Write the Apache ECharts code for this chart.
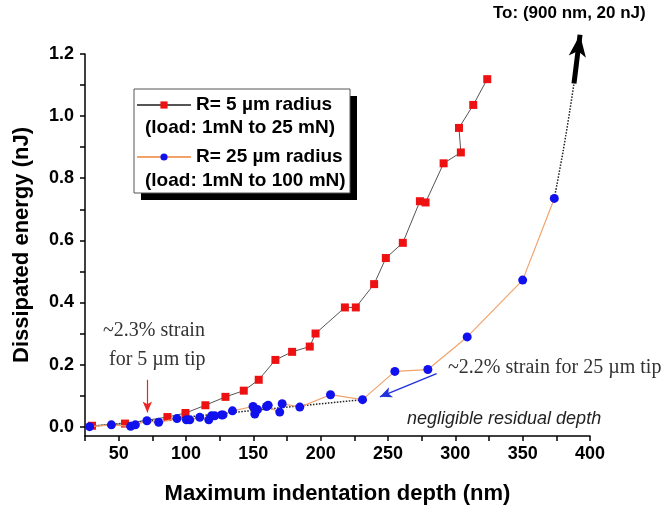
<!DOCTYPE html>
<html>
<head>
<meta charset="utf-8">
<script src="https://cdn.jsdelivr.net/npm/echarts@6/dist/echarts.min.js"></script>
<style>
html,body{margin:0;padding:0;background:#fff;}
#chart{width:665px;height:506px;}
</style>
</head>
<body>
<div id="chart"></div>
<script>
// ---- data ----
const r5Depth  = [30.2, 54.7, 86.2, 99.6, 114.4, 129.3, 142.9, 154.0, 166.4, 178.8, 191.9, 196.2, 218.0, 226.1, 239.7, 248.4, 261.0, 273.7, 277.9, 291.3, 304.1, 302.7, 313.3, 323.7];
const r5Energy = [0.003, 0.010, 0.031, 0.044, 0.069, 0.096, 0.116, 0.151, 0.215, 0.241, 0.258, 0.300, 0.384, 0.384, 0.459, 0.543, 0.592, 0.726, 0.722, 0.848, 0.883, 0.962, 1.036, 1.119];

const r25Depth  = [28.4, 44.6, 58.9, 62.4, 71.0, 79.7, 93.3, 100.3, 102.8, 110.2, 116.9, 118.9, 121.3, 126.3, 127.5, 134.5, 149.8, 151.1, 153.1, 159.8, 161.0, 169.6, 171.4, 184.5, 207.3, 231.1, 255.1, 279.6, 308.8, 350.0, 373.5];
const r25Energy = [0.000, 0.006, 0.001, 0.006, 0.019, 0.014, 0.026, 0.022, 0.022, 0.030, 0.022, 0.035, 0.035, 0.038, 0.038, 0.051, 0.065, 0.041, 0.055, 0.065, 0.069, 0.047, 0.074, 0.063, 0.103, 0.087, 0.178, 0.184, 0.289, 0.472, 0.735];

// dotted guide lines
const fitDepth  = [28.0, 231.1];
const fitEnergy = [0.000, 0.087];
const extDepth  = [373.5, 380.2, 385.1, 388.1];
const extEnergy = [0.735, 0.891, 1.020, 1.105];

// arrows (from -> to), in data units
const bigArrow  = [[388.1, 1.105], [392.6, 1.262]];
const redArrow  = [[71.3, 0.151], [71.3, 0.046]];
const blueArrow = [[286.1, 0.171], [244.0, 0.096]];

// ticks
const xTickLabels = [50, 100, 150, 200, 250, 300, 350, 400];
const xTickMarks  = [25, 50, 75, 100, 125, 150, 175, 200, 225, 250, 275, 300, 325, 350, 375, 400];
const yTickLabels = [0, 0.2, 0.4, 0.6, 0.8, 1.0, 1.2];
const yTickMarks  = [0, 0.1, 0.2, 0.3, 0.4, 0.5, 0.6, 0.7, 0.8, 0.9, 1.0, 1.1, 1.2];

const seriesNames = ['R= 5 \u00b5m radius', 'R= 25 \u00b5m radius'];
const loadLines = ['(load: 1mN to 25 mN)', '(load: 1mN to 100 mN)'];

const zip = (a, b) => a.map((v, i) => [v, b[i]]);

const SANS = 'Liberation Sans, Arial, sans-serif';
const SERIF = 'Liberation Serif, Times New Roman, serif';

// layout
const X_MIN = 25, X_MAX = 400, Y_MIN = -0.03, Y_MAX = 1.2, Y_MAX_OVER = 1.27;
const G = {left: 85, right: 75, top: 54, bottom: 70};
const plotH = 506 - G.top - G.bottom;
const pxPerY = plotH / (Y_MAX - Y_MIN);
const overTop = G.top - (Y_MAX_OVER - Y_MAX) * pxPerY;

const LB = {left: 134, top: 89, width: 216, height: 104, shadow: 7};

const chart = echarts.init(document.getElementById('chart'), null, {renderer: 'canvas'});

const axisCommon = {
  axisLine: {show: true, onZero: false, lineStyle: {color: '#000', width: 1.5}},
  splitLine: {show: false},
  nameTextStyle: {fontFamily: SANS, fontWeight: 'bold', fontSize: 22, color: '#000'}
};

const option = {
  animation: false,
  backgroundColor: '#fff',
  grid: [
    {left: G.left, right: G.right, top: G.top, bottom: G.bottom, containLabel: false, outerBoundsMode: 'none'},
    {left: G.left, right: G.right, top: overTop, bottom: G.bottom, containLabel: false, outerBoundsMode: 'none'}
  ],
  xAxis: [
    Object.assign({}, axisCommon, {
      type: 'value', min: X_MIN, max: X_MAX, gridIndex: 0,
      name: 'Maximum indentation depth (nm)', nameLocation: 'middle', nameGap: 47,
      axisTick: {show: true, inside: false, length: 5, customValues: xTickMarks, lineStyle: {color: '#000', width: 1.5}},
      axisLabel: {customValues: xTickLabels, margin: 9, fontFamily: SANS, fontWeight: 'bold', fontSize: 18, color: '#000'}
    }),
    {type: 'value', min: X_MIN, max: X_MAX, gridIndex: 1, show: false}
  ],
  yAxis: [
    Object.assign({}, axisCommon, {
      type: 'value', min: Y_MIN, max: Y_MAX, gridIndex: 0,
      name: 'Dissipated energy (nJ)', nameLocation: 'middle', nameGap: 52,
      axisTick: {show: true, inside: false, length: 5, customValues: yTickMarks, lineStyle: {color: '#000', width: 1.5}},
      axisLabel: {customValues: yTickLabels, margin: 11, fontFamily: SANS, fontWeight: 'bold', fontSize: 18, color: '#000',
        formatter: v => Number(v).toFixed(1)}
    }),
    {type: 'value', min: Y_MIN, max: Y_MAX_OVER, gridIndex: 1, show: false}
  ],
  legend: {
    data: seriesNames,
    orient: 'vertical',
    left: LB.left, top: LB.top,
    padding: [5, 8, 25, 2],
    itemGap: 30,
    itemWidth: 54, itemHeight: 9,
    z: 10,
    textStyle: {fontFamily: SANS, fontWeight: 'bold', fontSize: 19, color: '#000', lineHeight: 22},
    selectedMode: false
  },
  graphic: [
    {type: 'rect', z: 1, silent: true,
      shape: {x: LB.left + LB.shadow, y: LB.top + LB.shadow, width: LB.width, height: LB.height},
      style: {fill: '#000'}},
    {type: 'rect', z: 2, silent: true,
      shape: {x: LB.left, y: LB.top, width: LB.width, height: LB.height},
      style: {fill: '#fff', stroke: '#555', lineWidth: 1}},
    {type: 'text', z: 100, left: 145, top: 118, style: {text: loadLines[0], font: 'bold 19px ' + SANS, fill: '#000'}},
    {type: 'text', z: 100, left: 145, top: 171, style: {text: loadLines[1], font: 'bold 19px ' + SANS, fill: '#000'}},
    {type: 'text', z: 100, left: 103, top: 321, style: {text: '~2.3% strain', font: '20px ' + SERIF, fill: '#333'}},
    {type: 'text', z: 100, left: 109, top: 350, style: {text: 'for 5 \u00b5m tip', font: '20px ' + SERIF, fill: '#333'}},
    {type: 'text', z: 100, left: 448, top: 358, style: {text: '~2.2% strain for 25 \u00b5m tip', font: '20px ' + SERIF, fill: '#333'}},
    {type: 'text', z: 100, left: 407, top: 410, style: {text: 'negligible residual depth', font: 'italic 18px ' + SANS, fill: '#222'}},
    {type: 'text', z: 100, left: 493, top: 5, style: {text: 'To: (900 nm, 20 nJ)', font: 'bold 17px ' + SANS, fill: '#000'}}
  ],
  series: [
    {
      name: seriesNames[0], type: 'line',
      data: zip(r5Depth, r5Energy),
      symbol: 'rect', symbolSize: 8,
      itemStyle: {color: '#ee1111'},
      lineStyle: {color: '#555', width: 1},
      z: 3,
      markLine: {
        silent: true, symbol: ['none', 'arrow'], symbolSize: [7, 11],
        label: {show: false},
        lineStyle: {color: '#ee2222', width: 1.2, type: 'solid'},
        data: [[{coord: redArrow[0]}, {coord: redArrow[1]}]]
      }
    },
    {
      name: seriesNames[1], type: 'line',
      data: zip(r25Depth, r25Energy),
      symbol: 'circle', symbolSize: 9,
      itemStyle: {color: '#1111ee'},
      lineStyle: {color: '#f2a36c', width: 1.2},
      z: 4,
      markLine: {
        silent: true, symbol: ['none', 'arrow'], symbolSize: [8, 12],
        label: {show: false},
        lineStyle: {color: '#2233dd', width: 1.5, type: 'solid'},
        data: [[{coord: blueArrow[0]}, {coord: blueArrow[1]}]]
      }
    },
    {
      name: 'fit', type: 'line',
      data: zip(fitDepth, fitEnergy),
      symbol: 'none',
      lineStyle: {color: '#222', width: 1.5, type: 'dotted'},
      z: 2
    },
    {
      name: 'ext', type: 'line',
      xAxisIndex: 1, yAxisIndex: 1,
      data: zip(extDepth, extEnergy),
      symbol: 'none', smooth: 0.3,
      clip: false,
      lineStyle: {color: '#222', width: 1.5, type: 'dotted'},
      z: 2,
      markLine: {
        silent: true, symbol: ['none', 'arrow'], symbolSize: [13, 22],
        label: {show: false},
        lineStyle: {color: '#000', width: 5, type: 'solid'},
        data: [[{coord: bigArrow[0]}, {coord: bigArrow[1]}]]
      }
    }
  ]
};

chart.setOption(option);
</script>
</body>
</html>
